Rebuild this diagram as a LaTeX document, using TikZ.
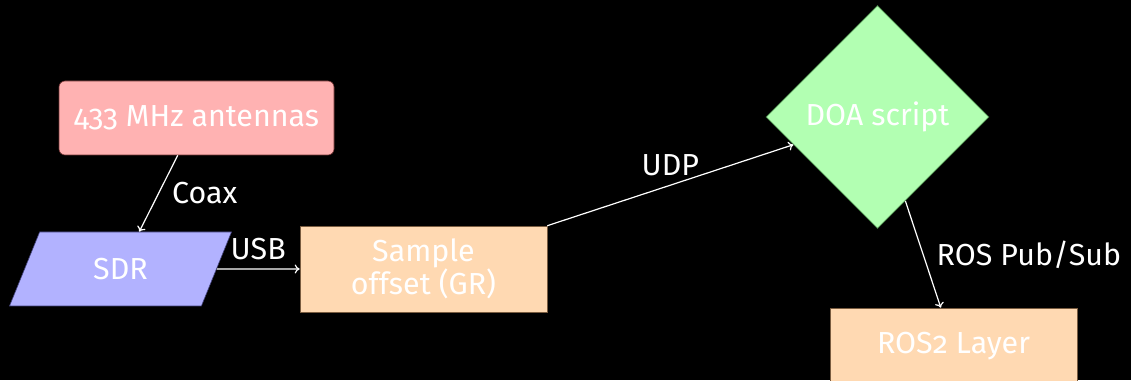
\documentclass[tikz,border=0pt]{standalone}
\usepackage{fontspec}
\setmainfont{Fira Sans}[Numbers=OldStyle]
\usetikzlibrary{shapes.geometric,arrows.meta}
\begin{document}
\begin{tikzpicture}[x=1pt,y=1pt,
  every node/.style={font=\fontsize{30.4}{33.5}\selectfont},
  blockbase/.style={text=white, align=center, line width=0.6pt, inner sep=2pt},
  srcbox/.style={blockbase, rectangle, rounded corners=6pt, fill=red!30, draw=red!30!black!80,
    minimum width=275, minimum height=74},
  procbox/.style={blockbase, rectangle, fill=orange!30, draw=orange!30!black!75,
    minimum width=247, minimum height=86},
  iobox/.style={blockbase, trapezium, trapezium left angle=67, trapezium right angle=113,
    trapezium stretches=true, fill=blue!30, draw=blue!30!black!75,
    minimum width=223, minimum height=74},
  decbox/.style={blockbase, diamond, aspect=1, fill=green!30, draw=green!30!black!75,
    minimum width=223, minimum height=223},
  link/.style={draw=white, line width=1.2pt, -{To[length=5pt,width=9pt]}},
  tag/.style={text=white, inner sep=9pt},
  sidetag/.style={tag, inner sep=13pt}]
  \fill[black] (0,0) rectangle (1131,380);
  \useasboundingbox (0,0) rectangle (1131,380);

  \node[srcbox]  (ant)    at (196.5,262) {433 MHz antennas};
  \node[iobox]   (sdr)    at (120.5,111) {SDR};
  \node[procbox] (sample) at (423.5,111) {Sample\\offset (GR)};
  \node[decbox]  (doa)    at (877.5,263) {DOA script};
  \node[procbox, minimum height=76] (ros) at (953.5,34) {ROS2 Layer};

  \draw[link] (ant) -- node[sidetag, midway, right] {Coax} (sdr);
  \draw[link] (sdr) -- node[tag, midway, above] {USB} (sample);
  \draw[link] (sample.north east) -- node[tag, midway, above] {UDP} (doa);
  \draw[link] (doa) -- node[sidetag, midway, right] {ROS Pub/Sub} (ros);
\end{tikzpicture}
\end{document}
